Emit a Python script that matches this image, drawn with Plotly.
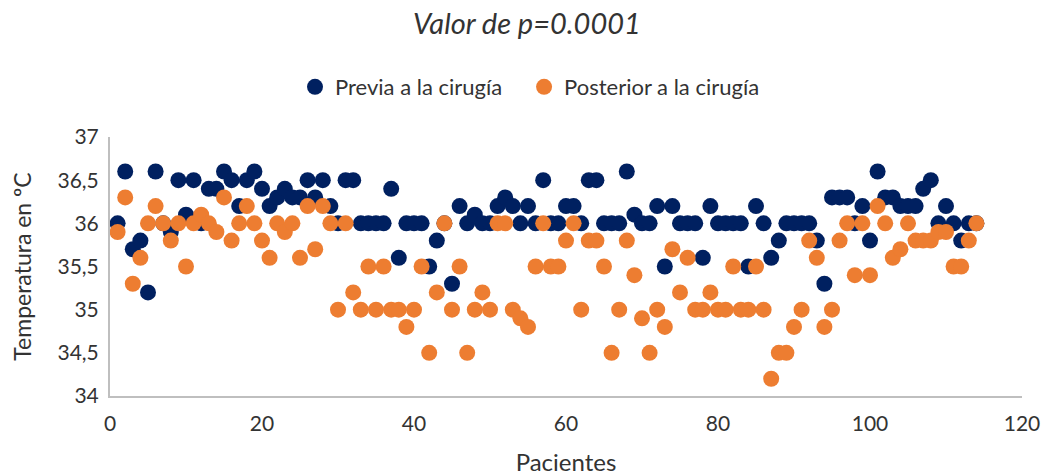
import plotly.graph_objects as go

pacientes = list(range(1, 115))

previa = [
    36.0, 36.6, 35.7, 35.8, 35.2, 36.6, 36.0, 35.9, 36.5, 36.1,
    36.5, 36.0, 36.4, 36.4, 36.6, 36.5, 36.2, 36.5, 36.6, 36.4,
    36.2, 36.3, 36.4, 36.3, 36.3, 36.5, 36.3, 36.5, 36.2, 36.0,
    36.5, 36.5, 36.0, 36.0, 36.0, 36.0, 36.4, 35.6, 36.0, 36.0,
    36.0, 35.5, 35.8, 36.0, 35.3, 36.2, 36.0, 36.1, 36.0, 36.0,
    36.2, 36.3, 36.2, 36.0, 36.2, 36.0, 36.5, 36.0, 36.0, 36.2,
    36.2, 36.0, 36.5, 36.5, 36.0, 36.0, 36.0, 36.6, 36.1, 36.0,
    36.0, 36.2, 35.5, 36.2, 36.0, 36.0, 36.0, 35.6, 36.2, 36.0,
    36.0, 36.0, 36.0, 35.5, 36.2, 36.0, 35.6, 35.8, 36.0, 36.0,
    36.0, 36.0, 35.8, 35.3, 36.3, 36.3, 36.3, 36.0, 36.2, 35.8,
    36.6, 36.3, 36.3, 36.2, 36.2, 36.2, 36.4, 36.5, 36.0, 36.2,
    36.0, 35.8, 36.0, 36.0,
]

posterior = [
    35.9, 36.3, 35.3, 35.6, 36.0, 36.2, 36.0, 35.8, 36.0, 35.5,
    36.0, 36.1, 36.0, 35.9, 36.3, 35.8, 36.0, 36.2, 36.0, 35.8,
    35.6, 36.0, 35.9, 36.0, 35.6, 36.2, 35.7, 36.2, 36.0, 35.0,
    36.0, 35.2, 35.0, 35.5, 35.0, 35.5, 35.0, 35.0, 34.8, 35.0,
    35.5, 34.5, 35.2, 36.0, 35.0, 35.5, 34.5, 35.0, 35.2, 35.0,
    36.0, 36.0, 35.0, 34.9, 34.8, 35.5, 36.0, 35.5, 35.5, 35.8,
    36.0, 35.0, 35.8, 35.8, 35.5, 34.5, 35.0, 35.8, 35.4, 34.9,
    34.5, 35.0, 34.8, 35.7, 35.2, 35.6, 35.0, 35.0, 35.2, 35.0,
    35.0, 35.5, 35.0, 35.0, 35.5, 35.0, 34.2, 34.5, 34.5, 34.8,
    35.0, 35.8, 35.6, 34.8, 35.0, 35.8, 36.0, 35.4, 36.0, 35.4,
    36.2, 36.0, 35.6, 35.7, 36.0, 35.8, 35.8, 35.8, 35.9, 35.9,
    35.5, 35.5, 35.8, 36.0,
]

x_ticks = [0, 20, 40, 60, 80, 100, 120]
y_ticks = [34, 34.5, 35, 35.5, 36, 36.5, 37]

FONT = "Lato, Open Sans, sans-serif"
TXT = "#333333"
NAVY = "#002060"
ORANGE = "#ED7D31"

fig = go.Figure()
fig.add_trace(go.Scatter(
    x=pacientes, y=previa, mode="markers", name="Previa a la cirugía\u00a0\u00a0\u00a0",
    marker=dict(color=NAVY, size=16, line=dict(width=0)),
))
fig.add_trace(go.Scatter(
    x=pacientes, y=posterior, mode="markers", name="Posterior a la cirugía",
    marker=dict(color=ORANGE, size=16, line=dict(width=0)),
))

fig.update_layout(
    width=1054, height=476,
    separators=",.",
    paper_bgcolor="white", plot_bgcolor="white",
    font=dict(family=FONT, size=21, color=TXT),
    margin=dict(l=110, r=32, t=137, b=80, autoexpand=False),
    title=dict(
        text="<i>Valor de p=0.0001</i>",
        x=0.5, xanchor="center", y=1 - 24 / 476, yref="container", yanchor="middle",
        font=dict(family=FONT, size=29, color=TXT),
    ),
    legend=dict(
        orientation="h", x=(295 - 110) / 912, xanchor="left", y=(396 - 87) / 259, yanchor="middle",
        font=dict(family=FONT, size=22, color=TXT),
        itemwidth=30, tracegroupgap=0,
    ),
    showlegend=True,
)

fig.update_xaxes(
    range=[0, 120], tickvals=x_ticks, showgrid=False, zeroline=False,
    showline=True, linecolor="#BFBFBF", linewidth=2, ticks="",
    ticklabelstandoff=8,
    tickfont=dict(family=FONT, size=21, color=TXT),
    title=dict(text="Pacientes", standoff=20, font=dict(family=FONT, size=24, color=TXT)),
)
fig.update_yaxes(
    range=[34, 37], tickvals=y_ticks, showgrid=False, zeroline=False,
    showline=True, linecolor="#BFBFBF", linewidth=2, ticks="",
    ticklabelstandoff=5,
    tickfont=dict(family=FONT, size=21, color=TXT),
    title=dict(text="Temperatura en ºC", standoff=19, font=dict(family=FONT, size=23, color=TXT)),
)

fig.write_html(
    "out.html",
    config={"displayModeBar": False},
    post_script="document.body.style.margin='0px';",
)
